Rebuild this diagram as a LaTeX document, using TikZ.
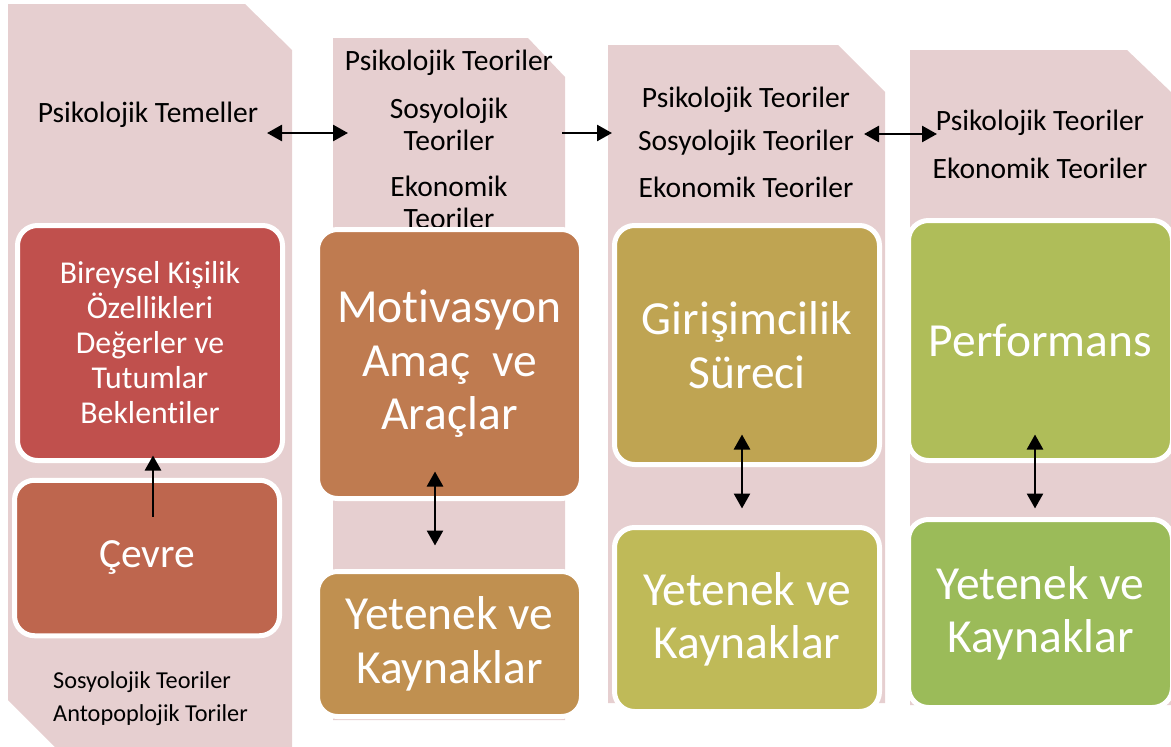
\documentclass[tikz,border=0pt]{standalone}
\usepackage{fontspec}
\setmainfont{Carlito}[Ligatures={NoCommon}]
\usetikzlibrary{arrows.meta}
\definecolor{pinkbg}{HTML}{E6CFD0}
\definecolor{cred}{HTML}{C0504D}
\definecolor{ccevre}{HTML}{BE664E}
\definecolor{cmot}{HTML}{BF7B50}
\definecolor{cyet2}{HTML}{C09050}
\definecolor{cgiri}{HTML}{BFA452}
\definecolor{cyet3}{HTML}{BFBA58}
\definecolor{cperf}{HTML}{AFBD59}
\definecolor{cyet4}{HTML}{9BBB59}
\tikzset{
  colshape/.style={fill=pinkbg, draw=none},
  box/.style={rectangle, draw=white, line width=5pt, rounded corners=20pt,
    text=white, align=center, inner sep=0pt},
  bigtxt/.style={font=\fontsize{47.5}{53.5}\selectfont},
  lbl/.style={inner sep=0pt, align=center, text=black, font=\fontsize{29.5}{32}\selectfont},
  smalllbl/.style={inner sep=0pt, anchor=west, text=black, font=\fontsize{24.3}{33}\selectfont},
  conn/.style={line width=2.6pt, draw=black},
  tipA/.style={-{Triangle[length=15pt,width=16pt]}},
  tipAB/.style={{Triangle[length=15pt,width=16pt]}-{Triangle[length=15pt,width=16pt]}}
}
\begin{document}
\begin{tikzpicture}[x=1pt,y=-1pt]
\useasboundingbox (0,0) rectangle (1171,747);
% columns
\fill[colshape] (8,4) -- (245,4) -- (292,50) -- (292,747) -- (55,747) -- (8,700) -- cycle;
\fill[colshape] (333,38) -- (528,38) -- (565,77) -- (565,720) -- (333,720) -- cycle;
\fill[colshape] (608,45) -- (838,45) -- (885,92) -- (885,703) -- (608,703) -- cycle;
\fill[colshape] (910,50) -- (1127,50) -- (1171,92) -- (1171,705) -- (910,705) -- cycle;
% labels
\node[lbl] (ptem) at (148,115) {Psikolojik Temeller};
\node[smalllbl] (sos1) at (53,682) {Sosyolojik Teoriler};
\node[smalllbl] (ant1) at (53,715) {Antopoplojik Toriler};
\node[lbl] (psi2) at (449,63) {Psikolojik Teoriler};
\node[lbl] (sos2) at (449,124) {Sosyolojik\\Teoriler};
\node[lbl] (eko2) at (449,202) {Ekonomik\\Teoriler};
\node[lbl] (psi3) at (746,100) {Psikolojik Teoriler};
\node[lbl] (sos3) at (746,143) {Sosyolojik Teoriler};
\node[lbl] (eko3) at (746,187) {Ekonomik Teoriler};
\node[lbl] (psi4) at (1040,123) {Psikolojik Teoriler};
\node[lbl] (eko4) at (1040,168) {Ekonomik Teoriler};
% boxes
\node[box, fill=cred, minimum width=265pt, minimum height=235pt,
  font=\fontsize{31.8}{35}\selectfont] (b1) at (150,343)
  {Bireysel Kişilik\\Özellikleri\\Değerler ve\\Tutumlar\\Beklentiler};
\node[box, fill=ccevre, minimum width=265pt, minimum height=155.5pt,
  font=\fontsize{41.5}{47}\selectfont] (cevre) at (147,558) {Çevre};
\node[box, bigtxt, fill=cmot, minimum width=264pt, minimum height=269pt] (mot) at (449.5,364)
  {Motivasyon\\Amaç\ \ ve\\Araçlar};
\node[box, bigtxt, fill=cyet2, minimum width=264pt, minimum height=145pt] (yet2) at (449.5,644)
  {Yetenek ve\\Kaynaklar};
\node[box, bigtxt, fill=cgiri, minimum width=265pt, minimum height=239pt] (giri) at (747,345)
  {Girişimcilik\\Süreci};
\node[box, bigtxt, fill=cyet3, minimum width=265pt, minimum height=184pt] (yet3) at (747,619.5)
  {Yetenek ve\\Kaynaklar};
\node[box, bigtxt, fill=cperf, minimum width=264pt, minimum height=240pt] (perf) at (1040.5,340.5)
  {Performans};
\node[box, bigtxt, fill=cyet4, minimum width=264pt, minimum height=188pt] (yet4) at (1040.5,613.5)
  {Yetenek ve\\Kaynaklar};
% horizontal connector ends
\coordinate (h1a) at (267,133);
\coordinate (h1b) at (348,133);
\coordinate (h2a) at (562,133);
\coordinate (h2b) at (612,133);
\coordinate (h3a) at (864,134);
\coordinate (h3b) at (937,134);
\draw[conn, tipAB] (h1a) -- (h1b);
\draw[conn, tipA] (h2a) -- (h2b);
\draw[conn, tipAB] (h3a) -- (h3b);
% vertical connectors
\draw[conn, tipA] ([xshift=6pt,yshift=-39pt]cevre.north) -- ([xshift=3pt,yshift=7.5pt]b1.south);
\draw[conn, tipAB] ([xshift=-14.5pt,yshift=29.5pt]mot.south) -- ([xshift=-14.5pt,yshift=23.5pt]yet2.north);
\draw[conn, tipAB] ([xshift=-5pt,yshift=32.5pt]giri.south) -- ([xshift=-5pt,yshift=16.5pt]yet3.north);
\draw[conn, tipAB] ([xshift=-5.5pt,yshift=28.5pt]perf.south) -- ([xshift=-5.5pt,yshift=8.5pt]yet4.north);
\end{tikzpicture}
\end{document}
